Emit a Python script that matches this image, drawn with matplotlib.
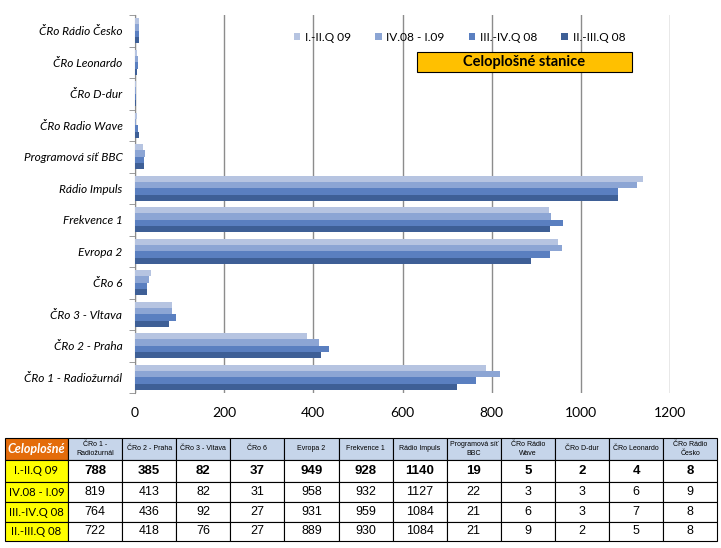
import numpy as np
import matplotlib
matplotlib.use('Agg')
import matplotlib.pyplot as plt
from matplotlib.patches import Rectangle

# data (table order: left to right)
stations = ['ČRo 1 - Radiožurnál', 'ČRo 2 - Praha', 'ČRo 3 - Vltava', 'ČRo 6', 'Evropa 2',
            'Frekvence 1', 'Rádio Impuls', 'Programová síť BBC', 'ČRo Radio Wave',
            'ČRo D-dur', 'ČRo Leonardo', 'ČRo Rádio Česko']
table_heads = ['ČRo 1 -\nRadiožurnál', 'ČRo 2 - Praha', 'ČRo 3 - Vltava', 'ČRo 6', 'Evropa 2',
               'Frekvence 1', 'Rádio Impuls', 'Programová síť\nBBC', 'ČRo Rádio\nWave',
               'ČRo D-dur', 'ČRo Leonardo', 'ČRo Rádio\nČesko']
periods = ['I.-II.Q 09', 'IV.08 - I.09', 'III.-IV.Q 08', 'II.-III.Q 08']
q1_09 = [788, 385, 82, 37, 949, 928, 1140, 19, 5, 2, 4, 8]
q4_08 = [819, 413, 82, 31, 958, 932, 1127, 22, 3, 3, 6, 9]
q3_08 = [764, 436, 92, 27, 931, 959, 1084, 21, 6, 3, 7, 8]
q2_08 = [722, 418, 76, 27, 889, 930, 1084, 21, 9, 2, 5, 8]
series = [q1_09, q4_08, q3_08, q2_08]
colors = ['#B6C4E1', '#8CA5D4', '#5A7FC0', '#3E5F96']

W, H = 721, 548
fig = plt.figure(figsize=(W / 100, H / 100), dpi=100)
ax = fig.add_axes([135 / W, 1 - 393 / H, (670 - 135) / W, (393 - 15) / H])

y = np.arange(len(stations))
bh = 0.2
for i, vals in enumerate(series):
    # lightest bar on top of each group
    off = (1.5 - i) * bh
    ax.barh(y + off, vals, height=bh, color=colors[i], label=periods[i], zorder=3)

ax.set_xlim(0, 1200)
ax.set_ylim(-0.5, len(stations) - 0.5)
ax.set_xticks(np.arange(0, 1201, 200))
ax.xaxis.grid(True, color='#8C8C8C', linewidth=1)
ax.set_axisbelow(True)
ax.tick_params(axis='x', length=0, labelsize=10, pad=10)
ax.set_yticks(y)
ax.set_yticklabels(stations, fontstyle='italic', fontsize=8.6, fontfamily='Lato')
ax.set_yticks(np.arange(-0.5, len(stations), 1), minor=True)
ax.tick_params(axis='y', which='major', length=0, pad=9)
ax.tick_params(axis='y', which='minor', length=4, color='#8C8C8C', direction='out')
for s in ['top', 'right', 'bottom']:
    ax.spines[s].set_visible(False)
ax.spines['left'].set_color('#8C8C8C')
for lab in ax.get_xticklabels():
    lab.set_fontfamily('Lato')

leg = ax.legend(loc='upper left', bbox_to_anchor=(283 / W, 1 - 21 / H), bbox_transform=fig.transFigure,
                ncol=4, frameon=False, handlelength=0.55, handleheight=0.55,
                handletextpad=0.4, columnspacing=2.0, prop={'family': 'Lato', 'size': 8.6})

fig.text((417 + 632) / 2 / W, 1 - 62 / H, 'Celoplošné stanice', ha='center', va='center',
         fontsize=10.5, fontweight='bold', fontfamily='Lato')
fig.patches.append(Rectangle((417 / W, 1 - 72 / H), 215 / W, 20 / H, transform=fig.transFigure,
                             facecolor='#FFC000', edgecolor='black', linewidth=0.8, zorder=0))

# table
col_x = [5, 68] + [68 + 54.1 * (k + 1) for k in range(12)]
row_y = [438, 460, 482, 502, 522, 541]

def cell(x0, x1, y0, y1, fc):
    fig.patches.append(Rectangle((x0 / W, 1 - y1 / H), (x1 - x0) / W, (y1 - y0) / H,
                                 transform=fig.transFigure, facecolor=fc, edgecolor='black',
                                 linewidth=0.8))

def ctext(x0, x1, y0, y1, s, **kw):
    fig.text((x0 + x1) / 2 / W, 1 - (y0 + y1) / 2 / H, s, ha='center', va='center', **kw)

cell(col_x[0], col_x[1], row_y[0], row_y[1], '#E46C0A')
ctext(col_x[0], col_x[1], row_y[0], row_y[1], 'Celoplošné', color='white', fontstyle='italic',
      fontweight='bold', fontsize=9, fontfamily='Lato')
for c, head in enumerate(table_heads):
    cell(col_x[c + 1], col_x[c + 2], row_y[0], row_y[1], '#C6D5EA')
    ctext(col_x[c + 1], col_x[c + 2], row_y[0], row_y[1], head, fontsize=5, fontfamily='Liberation Sans',
          linespacing=1.5)
for r, vals in enumerate(series):
    cell(col_x[0], col_x[1], row_y[r + 1], row_y[r + 2], '#FFFF00')
    ctext(col_x[0], col_x[1], row_y[r + 1], row_y[r + 2], periods[r], fontsize=8.2, fontfamily='Lato')
    for c, v in enumerate(vals):
        cell(col_x[c + 1], col_x[c + 2], row_y[r + 1], row_y[r + 2], 'white')
        ctext(col_x[c + 1], col_x[c + 2], row_y[r + 1], row_y[r + 2], str(v),
              fontsize=9.5 if r == 0 else 9, fontfamily='Liberation Sans',
              fontweight='bold' if r == 0 else 'normal')

fig.savefig('out.png', dpi=100)
